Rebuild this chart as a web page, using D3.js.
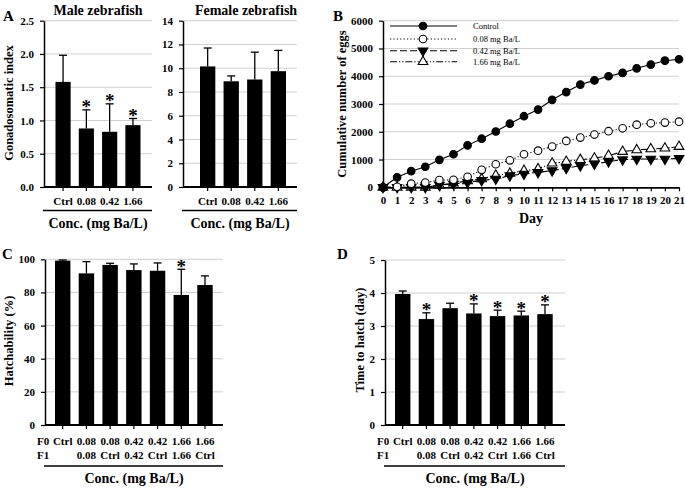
<!DOCTYPE html>
<html><head><meta charset="utf-8">
<script src="https://cdn.jsdelivr.net/npm/d3@7"></script>
<style>
body{margin:0;background:#fff}
text{font-family:"Liberation Serif","Times New Roman",serif;}
</style>
</head><body>
<svg id="chart" width="685" height="488"></svg>
<script>
// ---------- DATA ----------
const doseCats = ["Ctrl", "0.08", "0.42", "1.66"];
const maleGSI = [1.58, 0.88, 0.83, 0.93];
const maleSD = [0.40, 0.28, 0.42, 0.10];
const maleSig = [false, true, true, true];
const maleTicks = [0, 0.5, 1.0, 1.5, 2.0, 2.5];

const femaleGSI = [10.15, 8.9, 9.05, 9.75];
const femaleSD = [1.55, 0.45, 2.3, 1.75];
const femaleSig = [false, false, false, false];
const femaleTicks = [0, 2, 4, 6, 8, 10, 12, 14];

const days = [0,1,2,3,4,5,6,7,8,9,10,11,12,13,14,15,16,17,18,19,20,21];
const eggControl = [0, 360, 580, 740, 990, 1190, 1510, 1750, 2010, 2290, 2560, 2800, 3150, 3430, 3700, 3850, 4000, 4120, 4285, 4420, 4560, 4610];
const egg008 = [0, 20, 130, 170, 260, 270, 380, 630, 830, 970, 1190, 1320, 1465, 1670, 1790, 1900, 2020, 2125, 2255, 2305, 2330, 2365];
const egg042 = [0, 0, 0, 0, 80, 120, 180, 250, 300, 420, 480, 540, 600, 690, 780, 840, 925, 995, 1020, 1020, 1020, 1045];
const egg166 = [0, 0, 0, 0, 80, 150, 230, 300, 430, 500, 600, 660, 865, 925, 995, 1045, 1140, 1285, 1345, 1380, 1405, 1465];
const eggTicks = [0, 1000, 2000, 3000, 4000, 5000, 6000];
const eggLegend = ["Control", "0.08 mg Ba/L", "0.42 mg Ba/L", "1.66 mg Ba/L"];

const f0Labels = ["Ctrl", "0.08", "0.08", "0.42", "0.42", "1.66", "1.66"];
const f1Labels = ["", "0.08", "Ctrl", "0.42", "Ctrl", "1.66", "Ctrl"];
const hatchMean = [99.2, 91.5, 96.6, 93.5, 93.1, 78.5, 84.5];
const hatchSD = [0.4, 7.1, 1.0, 3.7, 4.7, 15.5, 5.5];
const hatchSig = [false, false, false, false, false, true, false];
const hatchTicks = [0, 20, 40, 60, 80, 100];

const timeMean = [3.97, 3.21, 3.54, 3.38, 3.30, 3.32, 3.36];
const timeSD = [0.09, 0.19, 0.15, 0.29, 0.18, 0.13, 0.28];
const timeSig = [false, true, false, true, true, true, true];
const timeTicks = [0, 1, 2, 3, 4, 5];

// ---------- DRAW ----------
const svg = d3.select("#chart");
const GRID = "#cfcfcf";

function label(x, y, txt, size, opts = {}) {
  return svg.append("text").attr("x", x).attr("y", y).text(txt)
    .attr("font-size", size).attr("font-weight", opts.weight || "bold")
    .attr("text-anchor", opts.anchor || "start")
    .attr("transform", opts.rotate ? `rotate(-90,${x},${y})` : null);
}

function yAxis(y, x0, x1, ticks, fmt) {
  svg.append("g").selectAll("line").data(ticks.filter(t => t !== 0)).join("line")
    .attr("x1", x0).attr("x2", x1).attr("y1", d => y(d)).attr("y2", d => y(d))
    .attr("stroke", GRID).attr("stroke-width", 1);
  const ax = svg.append("g").attr("transform", `translate(${x0},0)`)
    .call(d3.axisLeft(y).tickValues(ticks).tickFormat(fmt).tickSizeInner(4).tickSizeOuter(0).tickPadding(6));
  ax.select(".domain").attr("stroke-width", 1.5);
  ax.selectAll(".tick line").attr("stroke-width", 1.2);
  ax.selectAll("text").attr("font-size", 11).attr("font-weight", "bold")
    .attr("font-family", '"Liberation Serif","Times New Roman",serif');
}

function barPanel(c) {
  const y = d3.scaleLinear().domain(c.domain).range(c.yRange);
  const items = c.means.map((m, i) => ({ i, m, top: m + c.sds[i], sig: c.sig[i] }));
  const x = d3.scaleBand().domain(items.map(d => d.i)).range(c.band).paddingInner(0.35).paddingOuter(0);
  const cx = d => x(d.i) + x.bandwidth() / 2;
  yAxis(y, c.axisX, c.gridEnd, c.ticks, c.fmt);
  const g = svg.append("g");
  g.selectAll("rect").data(items).join("rect")
    .attr("x", d => x(d.i)).attr("width", x.bandwidth())
    .attr("y", d => y(d.m)).attr("height", d => y(0) - y(d.m)).attr("fill", "#000");
  g.selectAll("line.err").data(items).join("line").attr("class", "err")
    .attr("x1", cx).attr("x2", cx).attr("y1", d => y(d.m)).attr("y2", d => y(d.top))
    .attr("stroke", "#000").attr("stroke-width", 1.3);
  g.selectAll("line.cap").data(items).join("line").attr("class", "cap")
    .attr("x1", d => cx(d) - 4).attr("x2", d => cx(d) + 4)
    .attr("y1", d => y(d.top)).attr("y2", d => y(d.top))
    .attr("stroke", "#000").attr("stroke-width", 1.3);
  g.selectAll("text.star").data(items.filter(d => d.sig)).join("text").attr("class", "star")
    .attr("x", cx).attr("y", d => y(d.top) + 3.5)
    .attr("text-anchor", "middle").attr("font-size", 19).attr("font-weight", "bold").text("*");
  svg.append("line").attr("x1", c.axisX).attr("x2", c.gridEnd).attr("y1", y(0)).attr("y2", y(0))
    .attr("stroke", "#000").attr("stroke-width", 1.8);
  g.selectAll("line.xt").data(items).join("line").attr("class", "xt")
    .attr("x1", cx).attr("x2", cx)
    .attr("y1", y(0)).attr("y2", y(0) + 4).attr("stroke", "#000").attr("stroke-width", 1.2);
  c.rows.forEach((row, r) => {
    g.selectAll(null).data(items).join("text")
      .attr("x", cx).attr("y", c.rowY[r])
      .attr("text-anchor", "middle").attr("font-size", 11).attr("font-weight", "bold").text(d => row[d.i]);
  });
  if (c.rowNames) c.rowNames.forEach((n, r) => label(c.rowNameX, c.rowY[r], n, 11));
  svg.append("line").attr("x1", c.axisX - 1).attr("x2", c.gridEnd).attr("y1", c.underY).attr("y2", c.underY)
    .attr("stroke", "#000").attr("stroke-width", 1.3);
  label((c.axisX + c.gridEnd) / 2, c.underY + 17, "Conc. (mg Ba/L)", 14, { anchor: "middle" });
  if (c.title) label(c.titleX, 15, c.title, 14, { anchor: "middle" });
  if (c.ytitle) label(c.ytitleX, c.ytitleY, c.ytitle, 12.5, { anchor: "middle", rotate: true });
}

// Panel A
barPanel({ means: maleGSI, sds: maleSD, sig: maleSig, domain: [0, 2.5], yRange: [187, 20.7],
  ticks: maleTicks, fmt: d3.format(".1f"), axisX: 44, gridEnd: 152, band: [55.5, 140.5],
  rows: [doseCats], rowY: [205], underY: 210.5, title: "Male zebrafish", titleX: 98,
  ytitle: "Gonadosomatic index", ytitleX: 13, ytitleY: 103 });
barPanel({ means: femaleGSI, sds: femaleSD, sig: femaleSig, domain: [0, 14], yRange: [187, 20.7],
  ticks: femaleTicks, fmt: d3.format("d"), axisX: 183, gridEnd: 297, band: [200, 286],
  rows: [doseCats], rowY: [205], underY: 210.5, title: "Female zebrafish", titleX: 246 });
label(3, 21, "A", 15);

// Panel C
barPanel({ means: hatchMean, sds: hatchSD, sig: hatchSig, domain: [0, 100], yRange: [425, 259.3],
  ticks: hatchTicks, fmt: d3.format("d"), axisX: 45, gridEnd: 223, band: [55, 212.7],
  rows: [f0Labels, f1Labels], rowY: [445, 459], rowNames: ["F0", "F1"], rowNameX: 37,
  underY: 466, ytitle: "Hatchability (%)", ytitleX: 13, ytitleY: 341 });
label(2, 259, "C", 15);

// Panel D
barPanel({ means: timeMean, sds: timeSD, sig: timeSig, domain: [0, 5], yRange: [425, 260],
  ticks: timeTicks, fmt: d3.format("d"), axisX: 385, gridEnd: 565, band: [395, 552.7],
  rows: [f0Labels, f1Labels], rowY: [445, 459], rowNames: ["F0", "F1"], rowNameX: 377,
  underY: 466, ytitle: "Time to hatch (day)", ytitleX: 364, ytitleY: 340 });
label(337, 259, "D", 15);

// Panel B
(function () {
  const x = d3.scaleLinear().domain([0, 21]).range([383, 679]);
  const y = d3.scaleLinear().domain([0, 6000]).range([187.3, 20.7]);
  yAxis(y, 383, 679, eggTicks, d3.format("d"));
  const xa = svg.append("g").attr("transform", `translate(0,${y(0)})`)
    .call(d3.axisBottom(x).tickValues(days).tickFormat(d3.format("d")).tickSizeInner(4).tickSizeOuter(0).tickPadding(5));
  xa.select(".domain").attr("stroke-width", 1.8);
  xa.selectAll(".tick line").attr("stroke-width", 1.2);
  xa.selectAll("text").attr("font-size", 11).attr("font-weight", "bold")
    .attr("font-family", '"Liberation Serif","Times New Roman",serif');
  label(531, 223, "Day", 14, { anchor: "middle" });
  label(346, 104, "Cumulative number of eggs", 12.5, { anchor: "middle", rotate: true });
  label(333, 21, "B", 15);

  const series = [
    { vals: eggControl, dash: null, shape: "circle", fill: "#000" },
    { vals: egg008, dash: "1.2,2.2", shape: "circle", fill: "#fff" },
    { vals: egg042, dash: "7,3", shape: "down", fill: "#000" },
    { vals: egg166, dash: "7,2,1.2,2,1.2,2", shape: "up", fill: "#fff" }
  ];
  const tri = d3.symbol().type(d3.symbolTriangle).size(40)();
  function marker(sel, s) {
    if (s.shape === "circle") {
      sel.append("circle").attr("r", 3.8).attr("fill", s.fill).attr("stroke", "#000").attr("stroke-width", 1.1);
    } else {
      sel.append("path").attr("d", tri).attr("transform", s.shape === "down" ? "rotate(180)" : null)
        .attr("fill", s.fill).attr("stroke", "#000").attr("stroke-width", 1.1);
    }
  }
  const line = d3.line().x((d, i) => x(days[i])).y(d => y(d));
  [3, 2, 1, 0].forEach(k => {
    const s = series[k];
    svg.append("path").attr("d", line(s.vals)).attr("fill", "none").attr("stroke", "#000")
      .attr("stroke-width", 1.1).attr("stroke-dasharray", s.dash);
  });
  [3, 2, 1, 0].forEach(k => {
    const s = series[k];
    s.vals.forEach((v, i) => {
      const g = svg.append("g").attr("transform", `translate(${x(days[i])},${y(v)})`);
      marker(g, s);
    });
  });
  const rowsY = [26, 39, 50.7, 61.7];
  series.forEach((s, k) => {
    svg.append("line").attr("x1", 390).attr("x2", 457).attr("y1", rowsY[k]).attr("y2", rowsY[k])
      .attr("stroke", "#000").attr("stroke-width", 1.1).attr("stroke-dasharray", s.dash);
    const g = svg.append("g").attr("transform", `translate(423,${rowsY[k]})`);
    marker(g, s);
    label(473, rowsY[k] + 3, eggLegend[k], 8.5, { weight: "normal" });
  });
})();
</script>
</body></html>
